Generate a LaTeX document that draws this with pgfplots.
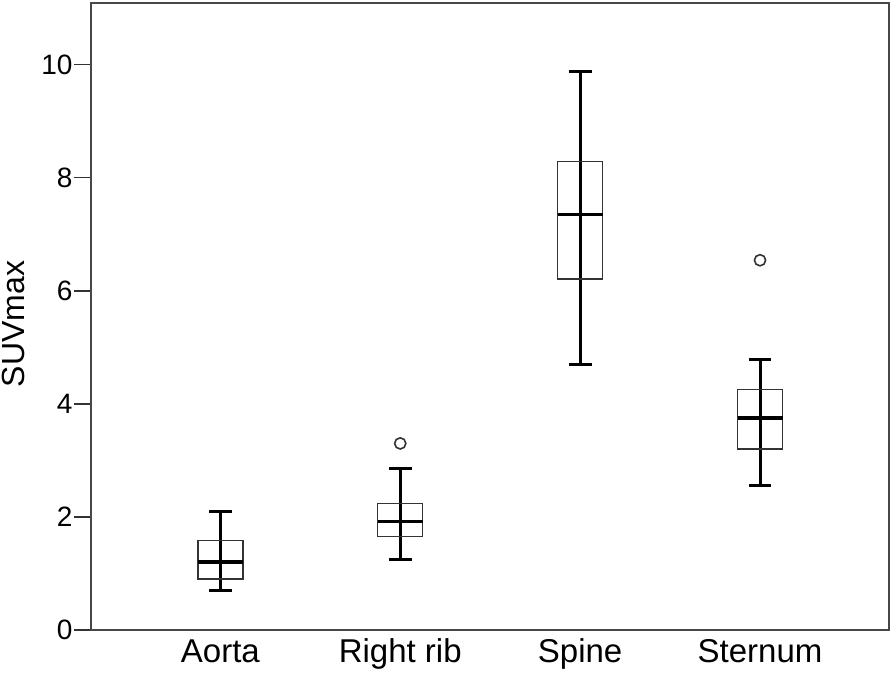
\documentclass[border=0pt]{standalone}
\usepackage{fontspec}
\setmainfont{Liberation Sans}
\usepackage{pgfplots}
\pgfplotsset{compat=1.18}
\usepgfplotslibrary{statistics}
\begin{document}
\begin{tikzpicture}
\begin{axis}[
  scale only axis, width=399pt, height=313.5pt,
  xmin=0.281, xmax=4.717, ymin=0, ymax=11.09,
  axis line style={draw=black!72, line width=1pt},
  xtick={1,2,3,4}, xticklabels={Aorta,Right rib,Spine,Sternum},
  xtick align=inside,
  x tick style={draw=none},
  x tick label style={font=\fontsize{16.5}{16.5}\selectfont, anchor=north, inner sep=0pt, text height=11.8pt, text depth=3.5pt, yshift=-4.5pt},
  ytick={0,2,4,6,8,10},
  ytick align=outside, ytick pos=left,
  major tick length=8.5pt,
  y tick style={draw=black!80, line width=0.8pt},
  y tick label style={font=\fontsize{14}{14}\selectfont, inner sep=0pt, xshift=-0.6pt},
  /pgf/number format/assume math mode=true,
  ylabel={SUVmax},
  ylabel style={font=\fontsize{16}{16}\selectfont, at={(axis description cs:-0.0977,0.488)}, anchor=center},
  boxplot/draw direction=y,
  boxplot/box extend=0.25,
  boxplot/whisker extend=0.127,
  boxplot/every box/.style={draw=black!80, line width=0.7pt, fill=none},
  boxplot/every whisker/.style={draw=black, line width=1.5pt},
  boxplot/every median/.style={draw=black, line width=1.7pt},
  clip=false,
]
% full vertical whisker lines through the boxes
\addplot[black, line width=1.5pt] coordinates {(1,0.70) (1,2.09)};
\addplot[black, line width=1.5pt] coordinates {(2,1.25) (2,2.86)};
\addplot[black, line width=1.5pt] coordinates {(3,4.70) (3,9.87)};
\addplot[black, line width=1.5pt] coordinates {(4,2.55) (4,4.78)};
% boxes
\addplot[black, boxplot prepared={draw position=1, lower whisker=0.70, lower quartile=0.90, median=1.20, upper quartile=1.58, upper whisker=2.09}] coordinates {};
\addplot[black, boxplot prepared={draw position=2, lower whisker=1.25, lower quartile=1.65, median=1.92, upper quartile=2.24, upper whisker=2.86}] coordinates {};
\addplot[black, boxplot prepared={draw position=3, lower whisker=4.70, lower quartile=6.21, median=7.35, upper quartile=8.29, upper whisker=9.87}] coordinates {};
\addplot[black, boxplot prepared={draw position=4, lower whisker=2.55, lower quartile=3.20, median=3.75, upper quartile=4.25, upper whisker=4.78}] coordinates {};
% outliers
\addplot[only marks, mark=o, mark size=2.8pt, mark options={draw=black!80, line width=0.8pt}] coordinates {(2,3.30) (4,6.54)};
\end{axis}
\pgfresetboundingbox
\path[use as bounding box] ([xshift=-45.5pt,yshift=-21.5pt]current axis.south west) rectangle ([xshift=2.5pt,yshift=1.5pt]current axis.north east);
\end{tikzpicture}
\end{document}
